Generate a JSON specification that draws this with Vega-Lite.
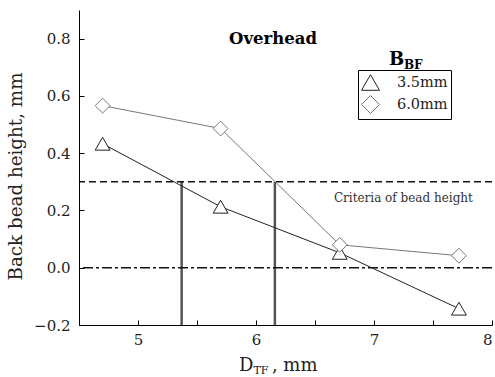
{
  "$schema": "https://vega.github.io/schema/vega-lite/v6.json",
  "width": 413,
  "height": 315,
  "autosize": {"type": "none"},
  "padding": {"left": 79, "top": 10, "right": 3, "bottom": 52},
  "background": "white",
  "config": {
    "view": {"stroke": null},
    "font": "DejaVu Serif",
    "axis": {
      "grid": false,
      "domainColor": "black",
      "domainWidth": 1,
      "tickColor": "black",
      "tickSize": -5,
      "tickWidth": 1,
      "labelFont": "DejaVu Serif",
      "labelFontSize": 15,
      "labelColor": "#222",
      "titleFont": "DejaVu Serif",
      "titleFontSize": 18.3,
      "titleFontWeight": "normal",
      "titleColor": "#222"
    }
  },
  "datasets": {
    "series": [
      {"d": 4.7, "h": 0.433, "s": "3.5mm"},
      {"d": 5.7, "h": 0.213, "s": "3.5mm"},
      {"d": 6.71, "h": 0.052, "s": "3.5mm"},
      {"d": 7.72, "h": -0.143, "s": "3.5mm"},
      {"d": 4.7, "h": 0.566, "s": "6.0mm"},
      {"d": 5.7, "h": 0.486, "s": "6.0mm"},
      {"d": 6.71, "h": 0.08, "s": "6.0mm"},
      {"d": 7.72, "h": 0.042, "s": "6.0mm"}
    ],
    "cuts": [
      {"d": 5.37, "lo": -0.2, "hi": 0.3},
      {"d": 6.16, "lo": -0.2, "hi": 0.3}
    ]
  },
  "layer": [
    {
      "data": {"name": "cuts"},
      "mark": {"type": "rule", "color": "#555", "strokeWidth": 2.5},
      "encoding": {
        "x": {"field": "d", "type": "quantitative", "scale": {"domain": [4.5, 8]}},
        "y": {"field": "lo", "type": "quantitative", "scale": {"domain": [-0.2, 0.9]}},
        "y2": {"field": "hi"}
      }
    },
    {
      "data": {"values": [{"v": 0.3}]},
      "mark": {"type": "rule", "color": "#111", "strokeWidth": 1.5, "strokeDash": [7, 4]},
      "encoding": {
        "y": {"field": "v", "type": "quantitative", "scale": {"domain": [-0.2, 0.9]}}
      }
    },
    {
      "data": {"values": [{"v": 0}]},
      "mark": {"type": "rule", "color": "#111", "strokeWidth": 1.5, "strokeDash": [10, 3, 3, 3]},
      "encoding": {
        "y": {"field": "v", "type": "quantitative", "scale": {"domain": [-0.2, 0.9]}}
      }
    },
    {
      "data": {"name": "series"},
      "mark": {"type": "line", "strokeWidth": 1},
      "encoding": {
        "x": {
          "field": "d", "type": "quantitative",
          "scale": {"domain": [4.5, 8], "nice": false, "zero": false},
          "axis": {
            "title": null,
            "values": [4.5, 5, 5.5, 6, 6.5, 7, 7.5, 8],
            "labelExpr": "datum.value % 1 == 0 ? format(datum.value, 'd') : ''",
            "labelPadding": 12
          }
        },
        "y": {
          "field": "h", "type": "quantitative",
          "scale": {"domain": [-0.2, 0.9], "nice": false, "zero": false},
          "axis": {
            "title": "Back bead height, mm",
            "values": [-0.2, -0.1, 0, 0.1, 0.2, 0.3, 0.4, 0.5, 0.6, 0.7, 0.8],
            "labelExpr": "abs(round(datum.value * 10)) % 2 == 0 ? format(datum.value, '.1f') : ''",
            "labelPadding": 14,
            "titlePadding": 8,
            "titleY": 166
          }
        },
        "detail": {"field": "s"},
        "stroke": {"field": "s", "type": "nominal", "scale": {"domain": ["3.5mm", "6.0mm"], "range": ["#222", "#777"]}}
      }
    },
    {
      "data": {"name": "series"},
      "mark": {"type": "point", "fill": "white", "fillOpacity": 1, "opacity": 1, "strokeWidth": 1, "size": 220},
      "encoding": {
        "x": {"field": "d", "type": "quantitative", "scale": {"domain": [4.5, 8]}},
        "y": {"field": "h", "type": "quantitative", "scale": {"domain": [-0.2, 0.9]}},
        "stroke": {"field": "s", "type": "nominal", "scale": {"domain": ["3.5mm", "6.0mm"], "range": ["#222", "#777"]}},
        "shape": {
          "field": "s", "type": "nominal",
          "scale": {"domain": ["3.5mm", "6.0mm"], "range": ["triangle-up", "diamond"]},
          "legend": {
            "orient": "none",
            "legendX": 279,
            "legendY": 60,
            "title": null,
            "strokeColor": "black",
            "fillColor": "white",
            "padding": 3,
            "labelFont": "DejaVu Serif",
            "labelFontSize": 14.5,
            "labelColor": "#222",
            "labelOffset": 17,
            "symbolSize": 324,
            "rowPadding": 0,
            "symbolStrokeWidth": 1,
            "symbolFillColor": "white",
            "cornerRadius": 0
          }
        }
      }
    },
    {
      "data": {"values": [
        {"d": 6.144, "h": 0.783, "t": "Overhead"}
      ]},
      "mark": {"type": "text", "font": "DejaVu Serif", "fontSize": 16.5, "fontWeight": "bold", "align": "center", "baseline": "alphabetic", "color": "black"},
      "encoding": {
        "x": {"field": "d", "type": "quantitative", "scale": {"domain": [4.5, 8]}},
        "y": {"field": "h", "type": "quantitative", "scale": {"domain": [-0.2, 0.9]}},
        "text": {"field": "t"}
      }
    },
    {
      "data": {"values": [
        {"d": 6.66, "h": 0.231, "t": "Criteria of bead height"}
      ]},
      "mark": {"type": "text", "font": "DejaVu Serif", "fontSize": 12, "align": "left", "baseline": "alphabetic", "color": "#333"},
      "encoding": {
        "x": {"field": "d", "type": "quantitative", "scale": {"domain": [4.5, 8]}},
        "y": {"field": "h", "type": "quantitative", "scale": {"domain": [-0.2, 0.9]}},
        "text": {"field": "t"}
      }
    },
    {
      "data": {"values": [
        {"d": 7.127, "h": 0.709, "t": "B"}
      ]},
      "mark": {"type": "text", "font": "DejaVu Serif", "fontSize": 18, "fontWeight": "bold", "align": "left", "baseline": "alphabetic", "color": "black"},
      "encoding": {
        "x": {"field": "d", "type": "quantitative", "scale": {"domain": [4.5, 8]}},
        "y": {"field": "h", "type": "quantitative", "scale": {"domain": [-0.2, 0.9]}},
        "text": {"field": "t"}
      }
    },
    {
      "data": {"values": [
        {"d": 7.254, "h": 0.695, "t": "BF"}
      ]},
      "mark": {"type": "text", "font": "DejaVu Serif", "fontSize": 12, "fontWeight": "bold", "align": "left", "baseline": "alphabetic", "color": "black"},
      "encoding": {
        "x": {"field": "d", "type": "quantitative", "scale": {"domain": [4.5, 8]}},
        "y": {"field": "h", "type": "quantitative", "scale": {"domain": [-0.2, 0.9]}},
        "text": {"field": "t"}
      }
    },
    {
      "data": {"values": [
        {"d": 5.856, "h": -0.362, "t": "D"},
        {"d": 6.135, "h": -0.362, "t": ", mm"}
      ]},
      "mark": {"type": "text", "font": "DejaVu Serif", "fontSize": 18, "align": "left", "baseline": "alphabetic", "color": "#222"},
      "encoding": {
        "x": {"field": "d", "type": "quantitative", "scale": {"domain": [4.5, 8]}},
        "y": {"field": "h", "type": "quantitative", "scale": {"domain": [-0.2, 0.9]}},
        "text": {"field": "t"}
      }
    },
    {
      "data": {"values": [
        {"d": 5.978, "h": -0.372, "t": "TF"}
      ]},
      "mark": {"type": "text", "font": "DejaVu Serif", "fontSize": 11, "align": "left", "baseline": "alphabetic", "color": "#222"},
      "encoding": {
        "x": {"field": "d", "type": "quantitative", "scale": {"domain": [4.5, 8]}},
        "y": {"field": "h", "type": "quantitative", "scale": {"domain": [-0.2, 0.9]}},
        "text": {"field": "t"}
      }
    }
  ]
}
